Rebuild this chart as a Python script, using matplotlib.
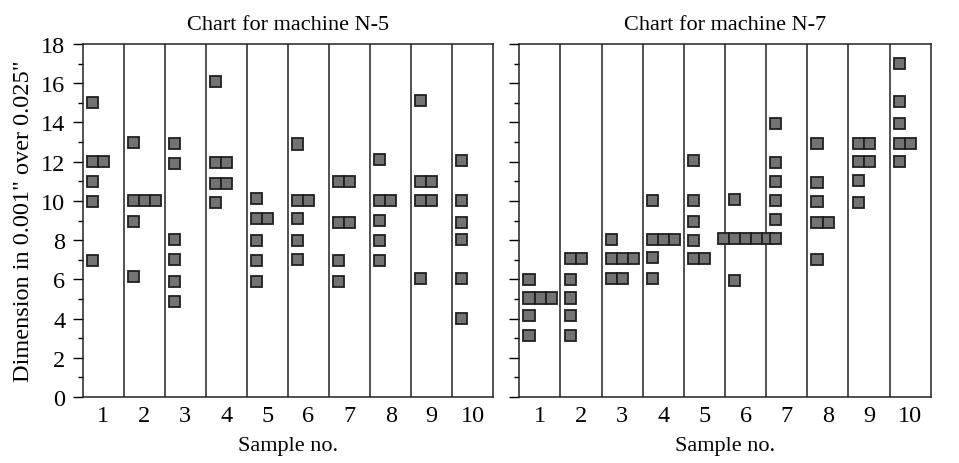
import matplotlib.pyplot as plt
from matplotlib.patches import Rectangle
from matplotlib.ticker import MultipleLocator

# readings per sample (each square is one reading), values in 0.001" over 0.025"
samples = list(range(1, 11))
n5_values = [
    [15.0, 12.0, 12.0, 11.0, 9.95, 6.95],
    [13.0, 10.0, 10.0, 10.0, 8.95, 6.15],
    [12.95, 11.9, 8.05, 7.0, 5.9, 4.85],
    [16.1, 11.95, 11.95, 10.9, 10.9, 9.9],
    [10.1, 9.1, 9.1, 8.0, 6.95, 5.9],
    [12.9, 10.0, 10.0, 9.1, 8.0, 7.0],
    [11.0, 11.0, 8.9, 8.9, 6.95, 5.9],
    [12.1, 10.0, 10.0, 9.0, 8.0, 6.95],
    [15.1, 11.0, 11.0, 10.0, 10.0, 6.05],
    [12.05, 10.0, 8.9, 8.05, 6.05, 4.0],
]
n7_values = [
    [6.0, 5.05, 5.05, 5.05, 4.15, 3.15],
    [7.05, 7.05, 6.0, 5.05, 4.15, 3.15],
    [8.05, 7.05, 7.05, 7.05, 6.05, 6.05],
    [10.0, 8.05, 8.05, 8.05, 7.1, 6.05],
    [12.05, 10.0, 8.95, 8.0, 7.05, 7.05],
    [10.05, 8.1, 8.1, 8.1, 8.1, 8.1, 5.95],
    [13.95, 11.95, 11.0, 10.0, 9.05, 8.1],
    [12.95, 10.95, 9.95, 8.9, 8.9, 7.0],
    [12.95, 12.95, 12.0, 12.0, 11.05, 9.9],
    [17.0, 15.05, 13.95, 12.95, 12.95, 12.0],
]
titles = ["Chart for machine N-5", "Chart for machine N-7"]

plt.rcParams["font.family"] = ["Liberation Serif", "DejaVu Serif"]
plt.rcParams["font.size"] = 16

fig = plt.figure(figsize=(9.59, 4.64), dpi=100)
ax1 = fig.add_axes([0.0862, 0.1422, 0.4282, 0.7608])
ax2 = fig.add_axes([0.5415, 0.1422, 0.4290, 0.7608])

sq_w = 0.27   # square width in x units (one column = 1)
sq_h = 0.565  # square height in y units
pad = 0.10    # gap between column line and first square


def draw_panel(ax, values, title):
    ax.set_xlim(0.5, 10.5)
    ax.set_ylim(0, 18)
    for i in range(1, 10):
        ax.axvline(i + 0.5, color="#222222", lw=1.1)
    for s, vals in zip(samples, values):
        groups = {}
        for v in vals:
            groups.setdefault(round(v, 2), []).append(v)
        for v, g in groups.items():
            n = len(g)
            if pad + n * sq_w > 1:
                start = s - n * sq_w / 2  # too wide: centre the row
            else:
                start = s - 0.5 + pad
            for k in range(n):
                ax.add_patch(Rectangle((start + k * sq_w, v - sq_h / 2), sq_w, sq_h,
                                       facecolor="#737373", edgecolor="#202020",
                                       lw=1.3, zorder=3))
    ax.set_xticks(samples)
    ax.tick_params(axis="x", length=0, pad=6, labelsize=17.5)
    ax.yaxis.set_major_locator(MultipleLocator(2))
    ax.yaxis.set_minor_locator(MultipleLocator(1))
    ax.tick_params(axis="y", which="major", direction="out", length=7.5, width=1,
                   labelsize=17.5, pad=5)
    ax.tick_params(axis="y", which="minor", direction="out", length=3.5, width=1)
    for sp in ax.spines.values():
        sp.set_linewidth(1.1)
        sp.set_color("#222222")
    ax.set_title(title, fontsize=16, pad=11)
    ax.set_xlabel("Sample no.", fontsize=16, labelpad=7)


draw_panel(ax1, n5_values, titles[0])
draw_panel(ax2, n7_values, titles[1])
ax1.set_ylabel("Dimension in 0.001\" over 0.025\"", fontsize=17.5, labelpad=5)
ax2.tick_params(axis="y", which="both", labelleft=False)

fig.savefig("out.png", dpi=100)
